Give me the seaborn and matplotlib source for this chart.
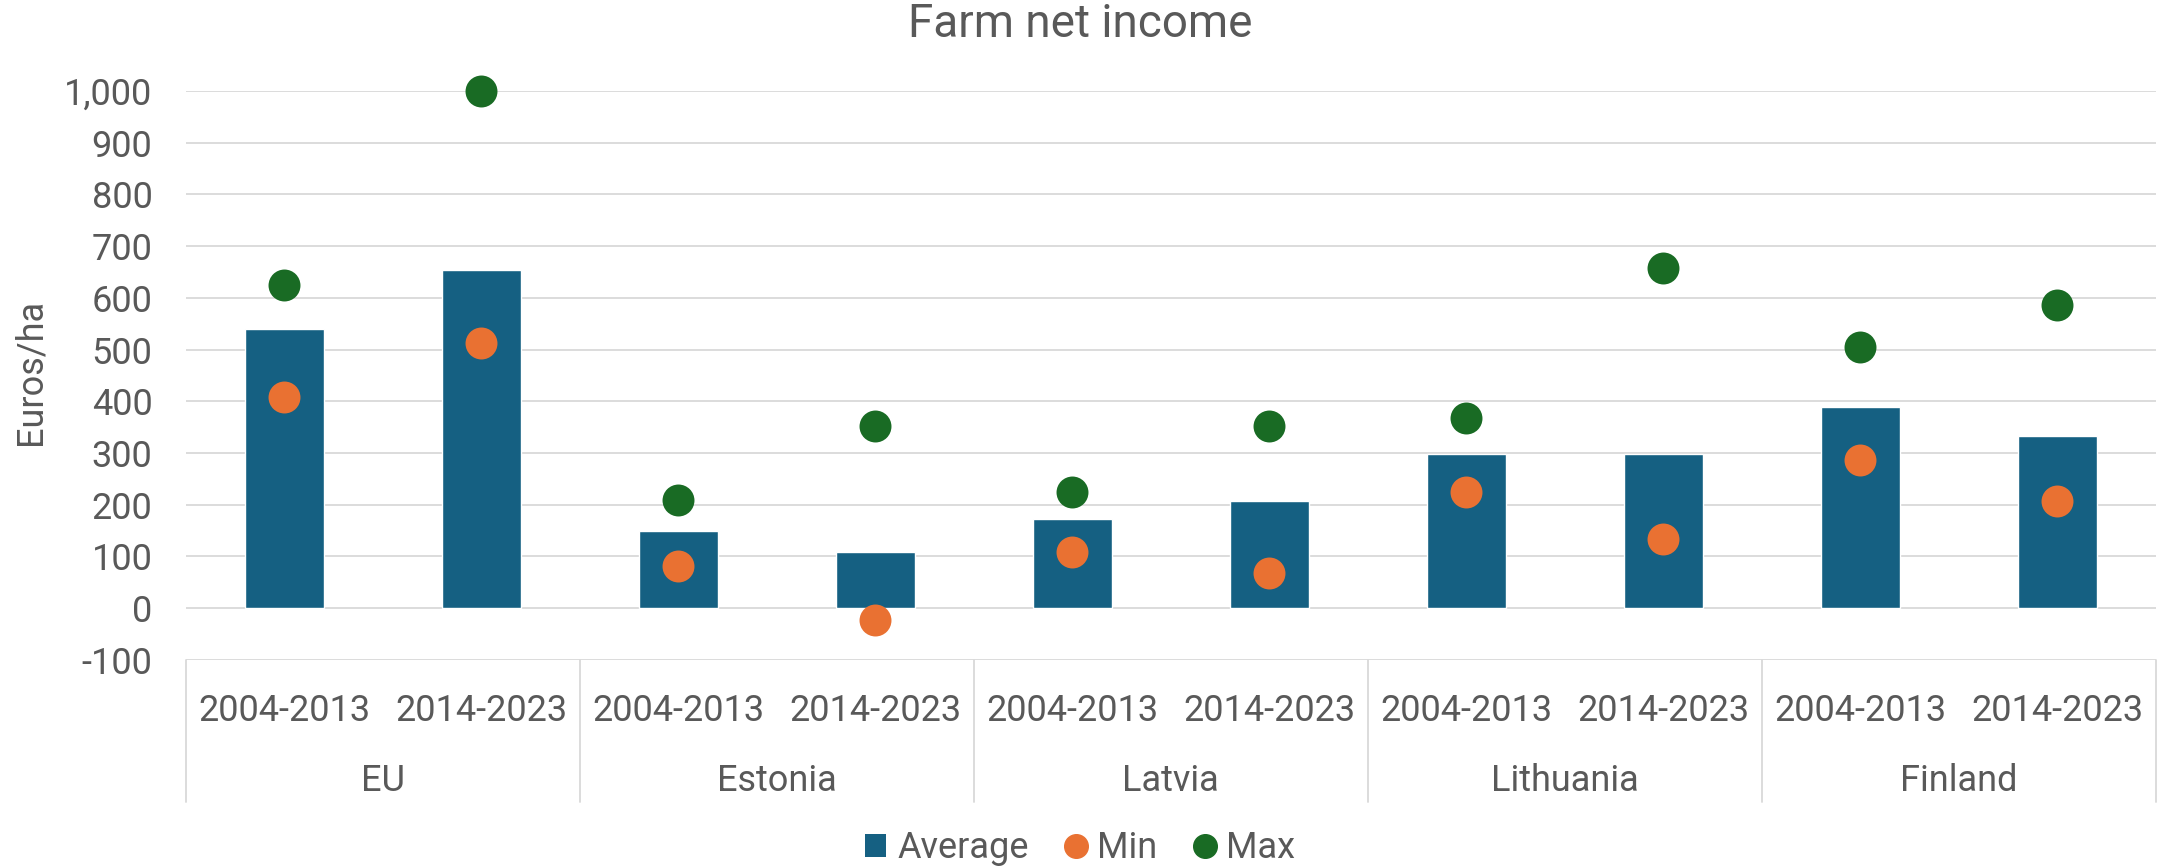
import pandas as pd
import matplotlib
matplotlib.use("Agg")
import matplotlib.pyplot as plt
import matplotlib.transforms as mtransforms
from matplotlib.lines import Line2D
from matplotlib.patches import Patch
from matplotlib.ticker import StrMethodFormatter
import seaborn as sns

# Data (Euros/ha)
countries = ["EU", "Estonia", "Latvia", "Lithuania", "Finland"]
periods = ["2004-2013", "2014-2023"]
average = [540, 653, 150, 108, 172, 208, 299, 299, 388, 332]
min_vals = [409, 512, 82, -22, 108, 68, 224, 134, 287, 208]
max_vals = [624, 1000, 209, 353, 224, 353, 368, 658, 505, 587]

rows = []
i = 0
for c in countries:
    for p in periods:
        rows.append({"key": c + " " + p, "country": c, "period": p,
                     "Average": average[i], "Min": min_vals[i], "Max": max_vals[i]})
        i += 1
df = pd.DataFrame(rows)

blue = "#156082"
orange = "#E97132"
green = "#196B24"
text_col = "#595959"
grid_col = "#D9D9D9"

sns.set_style("white")
plt.rcParams["font.family"] = ["Roboto", "DejaVu Sans"]
plt.rcParams["axes.unicode_minus"] = False

fs = 26

fig = plt.figure(figsize=(21.6, 8.66), dpi=100)
ax = fig.add_axes([0.086, 0.238, 0.912, 0.657])

sns.barplot(data=df, x="key", y="Average", color=blue, width=0.4,
            saturation=1, ax=ax, zorder=2)
sns.stripplot(data=df, x="key", y="Min", color=orange, size=23, jitter=False,
              linewidth=0, ax=ax, zorder=3, clip_on=False)
sns.stripplot(data=df, x="key", y="Max", color=green, size=23, jitter=False,
              linewidth=0, ax=ax, zorder=3, clip_on=False)

n = len(df)
ax.set_xlim(-0.5, n - 0.5)
ax.set_ylim(-100, 1000)
ax.set_yticks(range(-100, 1001, 100))
ax.yaxis.set_major_formatter(StrMethodFormatter("{x:,.0f}"))
ax.tick_params(axis="y", length=0, pad=24, labelsize=fs, labelcolor=text_col)
ax.set_xticks([])
ax.set_xlabel("")
ax.set_ylabel("")
ax.yaxis.grid(True, color=grid_col, lw=1.3)
ax.set_axisbelow(True)
for s in ax.spines.values():
    s.set_visible(False)

# Two-level category axis
trans = mtransforms.blended_transform_factory(ax.transData, ax.transAxes)
for k, per in enumerate(df["period"]):
    ax.text(k, -0.09, per, transform=trans, ha="center", va="center",
            fontsize=fs, color=text_col)
nper = len(periods)
for g, c in enumerate(countries):
    ax.text(g * nper + (nper - 1) / 2, -0.213, c, transform=trans,
            ha="center", va="center", fontsize=fs, color=text_col)
for g in range(len(countries) + 1):
    xg = g * nper - 0.5
    ax.plot([xg, xg], [0, -0.25], transform=trans, color=grid_col, lw=1.3,
            clip_on=False)

fig.text(0.5, 0.972, "Farm net income", ha="center", va="center",
         fontsize=33, color=text_col)
fig.text(0.014, 0.57, "Euros/ha", ha="center", va="center", rotation=90,
         fontsize=fs, color=text_col)

handles = [
    Patch(facecolor=blue, edgecolor="none", label="Average"),
    Line2D([], [], marker="o", ls="none", color=orange, markersize=17, label="Min"),
    Line2D([], [], marker="o", ls="none", color=green, markersize=17, label="Max"),
]
leg = fig.legend(handles=handles, loc="center", bbox_to_anchor=(0.5, 0.021),
                 ncol=3, frameon=False, fontsize=fs, handlelength=0.6,
                 handleheight=0.6, handletextpad=0.3, columnspacing=1.0,
                 borderpad=0)
for t in leg.get_texts():
    t.set_color(text_col)

fig.savefig("out.png", dpi=100)
